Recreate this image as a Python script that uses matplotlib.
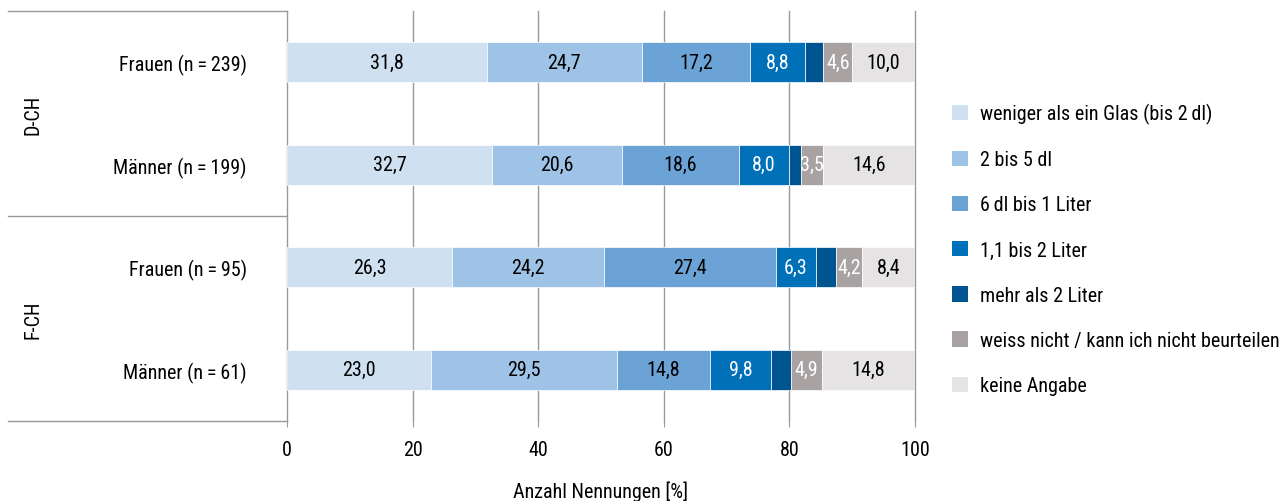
import numpy as np
import matplotlib
matplotlib.use("Agg")
import matplotlib.pyplot as plt
from matplotlib.patches import Patch

plt.rcParams['font.family'] = ['Roboto Condensed', 'Roboto', 'DejaVu Sans']

# data
groups = ["D-CH", "F-CH"]
rows = ["Frauen (n\u2009=\u2009239)", "Männer (n\u2009=\u2009199)", "Frauen (n\u2009=\u200995)", "Männer (n\u2009=\u200961)"]
categories = ["weniger als ein Glas (bis 2\u2009dl)", "2 bis 5 dl", "6\u2009dl bis 1 Liter",
              "1,1 bis 2 Liter", "mehr als 2 Liter", "weiss nicht / kann ich nicht beurteilen",
              "keine Angabe"]
weniger = [31.8, 32.7, 26.3, 23.0]
bis5dl = [24.7, 20.6, 24.2, 29.5]
bis1l = [17.2, 18.6, 27.4, 14.8]
bis2l = [8.8, 8.0, 6.3, 9.8]
mehr2l = [2.9, 2.0, 3.2, 3.2]
weiss = [4.6, 3.5, 4.2, 4.9]
keine = [10.0, 14.6, 8.4, 14.8]

series = [weniger, bis5dl, bis1l, bis2l, mehr2l, weiss, keine]
colors = ["#cfe0f1", "#9fc3e6", "#6ca3d6", "#0070b9", "#00548f", "#a8a2a2", "#e5e3e4"]
text_colors = ["black", "black", "black", "white", None, "white", "black"]

FS = 14.5

fig = plt.figure(figsize=(12.87, 5.02), dpi=100)
ax = fig.add_axes([287 / 1287, 80 / 502, 628 / 1287, 410 / 502])

y = np.arange(len(rows))
left = np.zeros(len(rows))
for vals, col, tcol in zip(series, colors, text_colors):
    vals = np.array(vals)
    ax.barh(y, vals, left=left, height=0.39, color=col, edgecolor='white', linewidth=0.5, zorder=3)
    if tcol is not None:
        for yi, (l, v) in enumerate(zip(left, vals)):
            ax.text(l + v / 2, yi, f"{v:.1f}".replace(".", ","), ha='center', va='center',
                    color=tcol, fontsize=FS, zorder=4)
    left += vals

ax.set_xlim(0, 100)
ax.set_ylim(3.5, -0.5)
ax.set_xticks(np.arange(0, 101, 20))
ax.set_yticks(y)
ax.set_yticklabels(rows, fontsize=FS)
ax.tick_params(axis='y', length=0, pad=29)
ax.tick_params(axis='x', length=4, color='#999999', labelsize=FS, pad=10)
ax.grid(axis='x', color='#999999', linewidth=1, zorder=0)
for gl in ax.get_xgridlines():
    gl.set_clip_on(False)
for s in ax.spines.values():
    s.set_visible(False)
ax.set_xlabel("Anzahl Nennungen [%]", fontsize=FS, labelpad=15)

# left table lines and group labels
trans = ax.get_yaxis_transform()
x0 = (8 - 287) / 628
for yl in [-0.5, 1.5, 3.5]:
    ax.plot([x0, 0], [yl, yl], color='#999999', linewidth=1, transform=trans, clip_on=False)
for gi, g in enumerate(groups):
    ax.text((33 - 287) / 628, gi * 2 + 0.5, g, rotation=90, ha='center', va='center',
            fontsize=FS, transform=trans)

handles = [Patch(facecolor=c, edgecolor='none') for c in colors]
fig.legend(handles, categories, loc='upper left', bbox_to_anchor=(944 / 1287, 1 - 96 / 502),
           frameon=False, fontsize=FS, handlelength=0.8, handleheight=0.8,
           handletextpad=0.6, labelspacing=1.3, borderaxespad=0)

fig.savefig("out.png", dpi=100)
